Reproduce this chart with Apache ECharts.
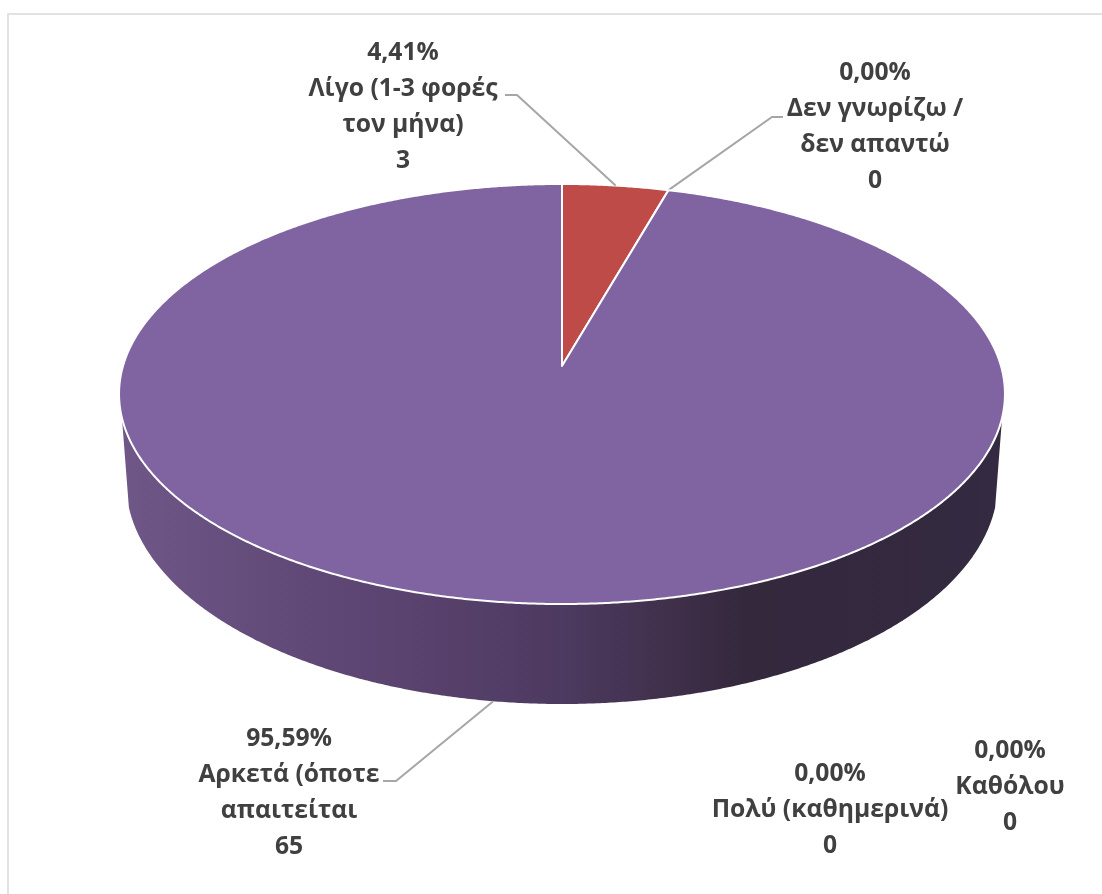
<!DOCTYPE html>
<html>
<head>
<meta charset="utf-8">
<script src="https://cdn.jsdelivr.net/npm/echarts@6/dist/echarts.min.js"></script>
<style>html,body{margin:0;padding:0;background:#fff}#c{width:1102px;height:894px}</style>
</head>
<body>
<div id="c"></div>
<script>
// Data
const categories = ['Πολύ (καθημερινά)', 'Λίγο (1-3 φορές\nτον μήνα)', 'Δεν γνωρίζω /\nδεν απαντώ', 'Αρκετά (όποτε\nαπαιτείται', 'Καθόλου'];
const counts = [0, 3, 0, 65, 0];
const sliceColors = ['#4F81BD', '#BE4B48', '#9BBB59', '#8064A2', '#4BACC6'];

// Label placement: text centre and the elbow of the leader line, per category
const labelCentres = [[830, 809.5], [403, 107], [875, 127], [289, 792.5], [1010, 787]];
const leaderElbows = [null, [[505, 95], [517, 95]], [[783, 117], [772, 117]], [[383, 781], [396, 781]], null];

// Projection of the tilted disc
const disc = { cx: 562, apexY: 366, numer: 157.5, persp: -0.1333, f: 439, topRx: 443, botCy: 482, botRx: 436, botRy: 222, frontFrom: 104.1, frontTo: 255.9 };
const total = counts.reduce((a, b) => a + b, 0);

function project(deg) {
  const t = deg * Math.PI / 180, X = Math.sin(t), Y = -Math.cos(t), w = 1 + disc.persp * Y;
  return [disc.cx + disc.f * X / w, (disc.apexY + disc.numer * Y) / w];
}
function lower(deg) {
  // the matching point on the front rim of the pie's underside
  const n = (project(deg)[0] - disc.cx) / disc.topRx;
  return [disc.cx + disc.botRx * n, disc.botCy + disc.botRy * Math.sqrt(Math.max(0, 1 - n * n))];
}
function range(a, b) {
  const pts = [];
  const n = Math.max(1, Math.ceil((b - a) * 3));
  for (let i = 0; i <= n; i++) pts.push(a + (b - a) * i / n);
  return pts;
}
const starts = [];
counts.reduce((acc, v, i) => { starts[i] = acc; return acc + v / total * 360; }, 0);

function renderSlice(params, api) {
  const i = params.dataIndex;
  const value = api.value(0);
  const from = starts[i], to = from + value / total * 360, mid = (from + to) / 2;
  const children = [];
  const font = { fontFamily: '"Open Sans"', fontWeight: 700, fontSize: 24.7 };
  if (value > 0) {
    const a = Math.max(from, disc.frontFrom), b = Math.min(to, disc.frontTo);
    if (b > a) {
      const rim = range(a, b);
      children.push({
        type: 'polygon', silent: true,
        shape: { points: rim.map(project).concat(rim.slice().reverse().map(lower)) },
        style: {
          fill: {
            type: 'linear', global: true, x: 119, y: 0, x2: 1005, y2: 0,
            colorStops: [
              { offset: 0, color: '#6F5788' }, { offset: 0.15, color: '#644C7B' },
              { offset: 0.32, color: '#5A436F' }, { offset: 0.5, color: '#4D3A60' },
              { offset: 0.63, color: '#3F2F49' }, { offset: 0.71, color: '#33283C' },
              { offset: 1, color: '#342A41' }
            ]
          }
        }
      });
    }
    children.push({
      type: 'polygon', silent: true,
      shape: { points: [[disc.cx, disc.apexY]].concat(range(from, to).map(project)) },
      style: { fill: sliceColors[i], stroke: '#fff', lineWidth: 2, lineJoin: 'round' }
    });
  }
  const elbow = leaderElbows[i];
  if (elbow) {
    const front = mid > disc.frontFrom && mid < disc.frontTo;
    children.push({
      type: 'polyline', silent: true,
      shape: { points: elbow.concat([front ? lower(mid) : project(mid)]) },
      style: { stroke: '#A6A6A6', lineWidth: 2, fill: null }
    });
  }
  const pct = (value / total * 100).toFixed(2).replace('.', ',') + '%';
  const c = labelCentres[i];
  children.push({
    type: 'text', silent: true,
    style: Object.assign({
      text: pct + '\n' + categories[i] + '\n' + value,
      x: c[0], y: c[1], align: 'center', verticalAlign: 'middle',
      lineHeight: 36, fill: '#404040'
    }, font)
  });
  return { type: 'group', children };
}

const chart = echarts.init(document.getElementById('c'), null, { renderer: 'canvas' });
chart.setOption({
  animation: false,
  backgroundColor: '#fff',
  graphic: [{
    type: 'rect', silent: true, z: 0,
    shape: { x: 8, y: 14, width: 1300, height: 1100 },
    style: { fill: 'none', stroke: '#D9D9D9', lineWidth: 1.5 }
  }],
  series: [{
    type: 'custom', coordinateSystem: 'none', silent: true,
    renderItem: renderSlice,
    data: counts.map(v => [v]),
    encode: { value: 0 }
  }]
});
</script>
</body>
</html>
